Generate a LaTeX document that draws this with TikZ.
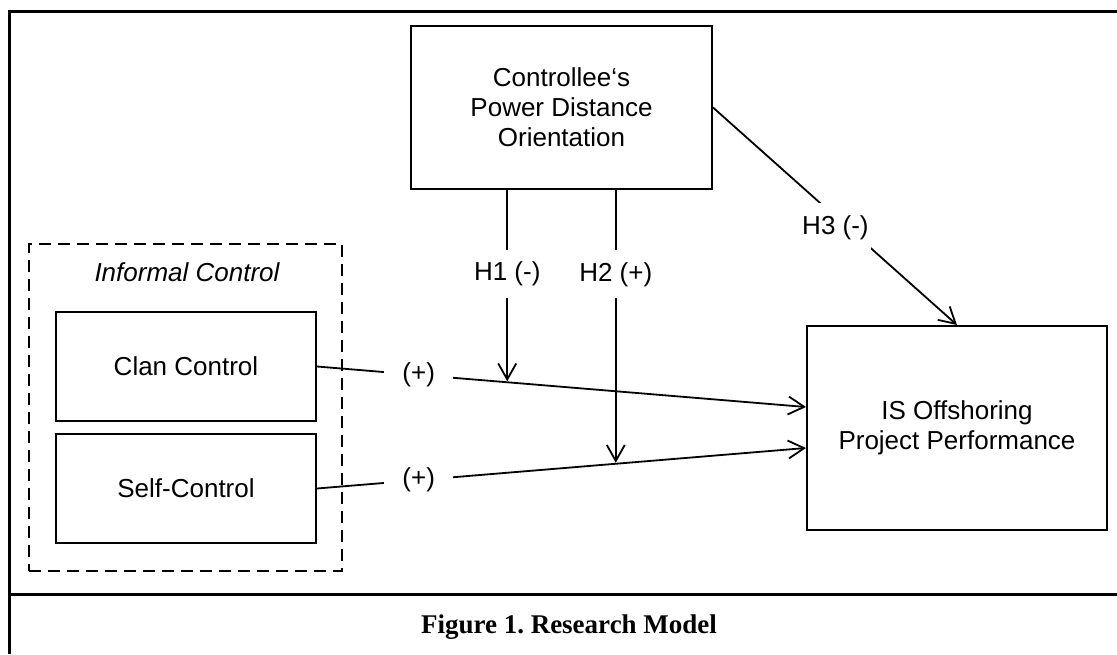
\documentclass[tikz,border=0pt]{standalone}
\usepackage{fontspec}
\setmainfont{Liberation Sans}
\newfontfamily\captionserif{Liberation Serif}
\usetikzlibrary{arrows.meta,calc}
\frenchspacing
\begin{document}
\begin{tikzpicture}[x=1pt,y=-1pt,
  txt/.style={font=\fontsize{26}{30}\selectfont},
  box/.style={draw, line width=2pt, inner sep=0pt, align=center, txt},
  group/.style={draw, line width=2.3pt, dash pattern=on 12pt off 7pt, inner sep=0pt},
  conn/.style={line width=1.8pt, -{Straight Barb[length=16pt,width=18pt,line width=1.8pt]}},
  lab/.style={txt, fill=white, inner xsep=2pt, inner ysep=12pt},
  plus/.style={txt, fill=white, inner xsep=18pt, inner ysep=3pt},
  frame/.style={line width=3pt}]
\useasboundingbox (0,0) rectangle (1117,654);

% outer frame and caption rule
\draw[frame] (1117,11) -- (9,11) -- (9,654);
\draw[frame] (9,594) -- (1117,594);
\node[font=\captionserif\bfseries\fontsize{27}{30}\selectfont] (cap) at (569,627) {Figure 1. Research Model};

% constructs
\node[box, minimum width=301pt, minimum height=163pt] (pdo) at (561.5,107.5)
  {Controllee\char"2018s\\Power Distance\\Orientation};
\node[group, minimum width=313pt, minimum height=327pt] (grp) at (185.5,407.5) {};
\node[txt, font=\fontsize{26}{30}\selectfont\itshape] (grplab) at (187,272) {Informal Control};
\node[box, minimum width=260pt, minimum height=109pt] (clan) at (186,366.5) {Clan Control};
\node[box, minimum width=260pt, minimum height=109pt] (self) at (186,488.5) {Self-Control};
\node[box, minimum width=300pt, minimum height=204pt] (isp) at (957,428)
  {IS Offshoring\\Project Performance};

% main effects
\draw[conn] (clan.east) -- node[plus, pos=0.208] {(+)} ([yshift=21pt]isp.west);
\draw[conn] (self.east) -- node[plus, pos=0.208] {(+)} ([yshift=-20pt]isp.west);

% moderating effects
\coordinate (m1) at ($(clan.east)!0.389!([yshift=21pt]isp.west)$);
\coordinate (m2) at ($(self.east)!0.611!([yshift=-20pt]isp.west)$);
\draw[conn, shorten >=1pt] (pdo.south -| m1) -- node[lab, pos=0.4375] {H1 (-)} (m1);
\draw[conn, shorten >=1pt] (pdo.south -| m2) -- node[lab, pos=0.308] {H2 (+)} (m2);

% direct effect
\draw[conn] (pdo.east) -- node[lab, pos=0.551, xshift=-12pt] {H3 (-)} (isp.north);
\end{tikzpicture}
\end{document}
